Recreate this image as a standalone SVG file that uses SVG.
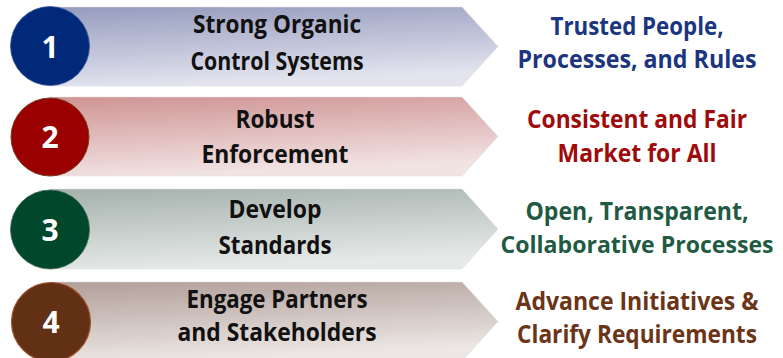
<svg xmlns="http://www.w3.org/2000/svg" width="783" height="358" viewBox="0 0 783 358">
  <defs>
    <linearGradient id="g1" x1="0" y1="0" x2="0.25" y2="1">
      <stop offset="0" stop-color="#959bbd"/>
      <stop offset="1" stop-color="#e3e4ef"/>
    </linearGradient>
    <linearGradient id="g2" x1="0" y1="0" x2="0.25" y2="1">
      <stop offset="0" stop-color="#cf9393"/>
      <stop offset="1" stop-color="#f2e3e3"/>
    </linearGradient>
    <linearGradient id="g3" x1="0" y1="0" x2="0.25" y2="1">
      <stop offset="0" stop-color="#a5b1ac"/>
      <stop offset="1" stop-color="#e5e9e7"/>
    </linearGradient>
    <linearGradient id="g4" x1="0" y1="0" x2="0.25" y2="1">
      <stop offset="0" stop-color="#b19e98"/>
      <stop offset="1" stop-color="#ece7e5"/>
    </linearGradient>
  </defs>
  <style>
    .band { stroke: #dcdcdc; stroke-width: 0.5; }
    .num { font-family: "Open Sans", "Liberation Sans", sans-serif; font-weight: bold; font-size: 30px; fill: #ffffff; text-anchor: middle; }
    .lbl { font-family: "Open Sans", "Liberation Sans", sans-serif; font-weight: bold; font-size: 24.5px; fill: #111111; text-anchor: middle; }
    .res { font-family: "Open Sans", "Liberation Sans", sans-serif; font-weight: bold; font-size: 24.5px; text-anchor: middle; }
  </style>
  <rect width="783" height="358" fill="#ffffff"/>

  <g id="row1">
    <path class="band" d="M50,7 H462 L498,46.5 L462,86 H50 Z" fill="url(#g1)"/>
    <circle cx="50" cy="46" r="39.5" fill="#00297a" stroke="#3a5598" stroke-width="0.8"/>
    <text class="num" x="50" y="58">1</text>
    <text class="lbl" x="277" y="33" textLength="168" lengthAdjust="spacingAndGlyphs">Strong Organic</text>
    <text class="lbl" x="277" y="70" textLength="173" lengthAdjust="spacingAndGlyphs">Control Systems</text>
    <text class="res" x="637" y="35" fill="#1b3580" textLength="173" lengthAdjust="spacingAndGlyphs">Trusted People,</text>
    <text class="res" x="637" y="68" fill="#1b3580" textLength="239" lengthAdjust="spacingAndGlyphs">Processes, and Rules</text>
  </g>

  <g id="row2">
    <path class="band" d="M50,97 H462 L498,136.5 L462,176 H50 Z" fill="url(#g2)"/>
    <circle cx="50" cy="137" r="39" fill="#9a0000" stroke="#7a3a1e" stroke-width="1"/>
    <text class="num" x="50" y="148">2</text>
    <text class="lbl" x="275" y="128" textLength="79" lengthAdjust="spacingAndGlyphs">Robust</text>
    <text class="lbl" x="275" y="163" textLength="147" lengthAdjust="spacingAndGlyphs">Enforcement</text>
    <text class="res" x="637" y="128" fill="#9e0b0b" textLength="220" lengthAdjust="spacingAndGlyphs">Consistent and Fair</text>
    <text class="res" x="637" y="162" fill="#9e0b0b" textLength="159" lengthAdjust="spacingAndGlyphs">Market for All</text>
  </g>

  <g id="row3">
    <path class="band" d="M50,189 H462 L498,229 L462,269 H50 Z" fill="url(#g3)"/>
    <circle cx="50" cy="229.5" r="39.5" fill="#00472c" stroke="#3d6a55" stroke-width="0.8"/>
    <text class="num" x="50" y="241">3</text>
    <text class="lbl" x="275" y="218" textLength="93" lengthAdjust="spacingAndGlyphs">Develop</text>
    <text class="lbl" x="275" y="254" textLength="113" lengthAdjust="spacingAndGlyphs">Standards</text>
    <text class="res" x="637" y="220" fill="#1f5a42" textLength="223" lengthAdjust="spacingAndGlyphs">Open, Transparent,</text>
    <text class="res" x="637" y="253" fill="#1f5a42" style="font-size:22.5px" textLength="273" lengthAdjust="spacingAndGlyphs">Collaborative Processes</text>
  </g>

  <g id="row4">
    <path class="band" d="M50,282 H462 L498,321.5 L462,361 H50 Z" fill="url(#g4)"/>
    <circle cx="51" cy="322" r="39.5" fill="#613015" stroke="#a0522a" stroke-width="1.2"/>
    <text class="num" x="51" y="333">4</text>
    <text class="lbl" x="277" y="308" textLength="181" lengthAdjust="spacingAndGlyphs">Engage Partners</text>
    <text class="lbl" x="277" y="341" textLength="199" lengthAdjust="spacingAndGlyphs">and Stakeholders</text>
    <text class="res" x="637" y="310" fill="#6b3518" textLength="243" lengthAdjust="spacingAndGlyphs">Advance Initiatives &amp;</text>
    <text class="res" x="637" y="343" fill="#6b3518" textLength="240" lengthAdjust="spacingAndGlyphs">Clarify Requirements</text>
  </g>

  <g id="connectors"/>
</svg>
